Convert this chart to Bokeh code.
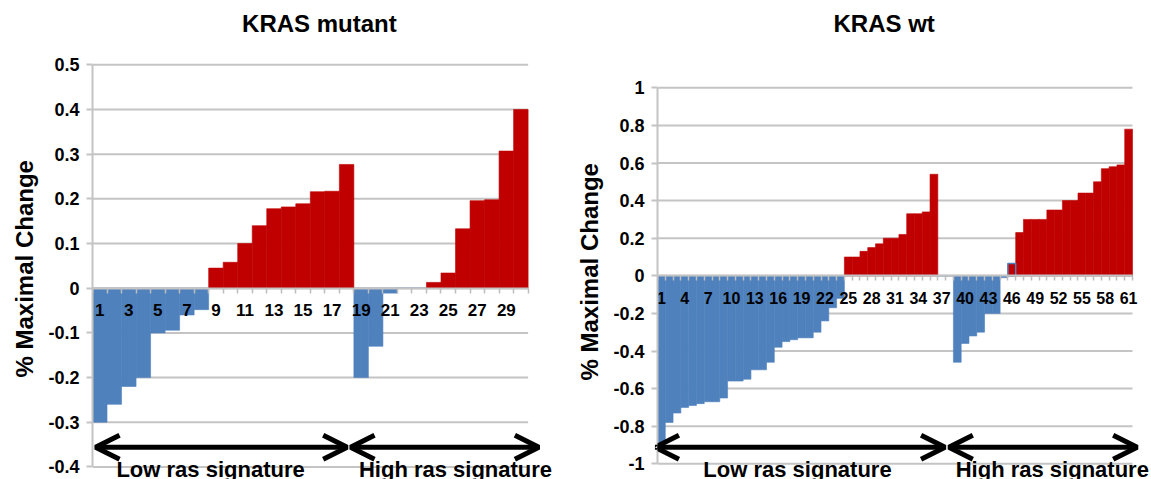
from bokeh.plotting import figure
from bokeh.layouts import row
from bokeh.models import (FixedTicker, CustomJSTickFormatter, Arrow, OpenHead,
                          Title, ColumnDataSource)
from bokeh.core.properties import value
from bokeh.embed import file_html
from bokeh.resources import INLINE

FONT = "Liberation Sans"
BLUE = "#4F81BD"
RED = "#C00000"
GRID = "#C4C4C4"

# ---------------- data ----------------
mut_title = "KRAS mutant"
mut_values = [-0.30, -0.26, -0.22, -0.20, -0.10, -0.094, -0.06, -0.048,
              0.045, 0.058, 0.10, 0.14, 0.178, 0.182, 0.189, 0.216, 0.217, 0.277,
              -0.20, -0.13, -0.011, 0.0, 0.0, 0.013, 0.034, 0.133, 0.196, 0.198,
              0.307, 0.40]
mut_xticks = [1, 3, 5, 7, 9, 11, 13, 15, 17, 19, 21, 23, 25, 27, 29]
mut_yticks = [-0.4, -0.3, -0.2, -0.1, 0.0, 0.1, 0.2, 0.3, 0.4, 0.5]

wt_title = "KRAS wt"
wt_values = [-0.89, -0.78, -0.73, -0.70, -0.69, -0.68, -0.67, -0.67, -0.65,
             -0.56, -0.56, -0.55, -0.50, -0.50, -0.46, -0.38, -0.35, -0.34,
             -0.33, -0.33, -0.30, -0.24, -0.17, -0.12,
             0.10, 0.10, 0.13, 0.15, 0.17, 0.20, 0.20, 0.22, 0.33, 0.33, 0.34,
             0.54, 0.0, 0.0,
             -0.46, -0.36, -0.32, -0.30, -0.20, -0.20, -0.01,
             0.065, 0.23, 0.30, 0.30, 0.30, 0.35, 0.35, 0.40, 0.40, 0.44, 0.44,
             0.50, 0.57, 0.58, 0.59, 0.78]
wt_xticks = [1, 4, 7, 10, 13, 16, 19, 22, 25, 28, 31, 34, 37, 40, 43, 46, 49,
             52, 55, 58, 61]
wt_yticks = [-1.0, -0.8, -0.6, -0.4, -0.2, 0.0, 0.2, 0.4, 0.6, 0.8, 1.0]
wt_outlined = [46]

y_label = "% Maximal Change"
group_names = ["Low ras signature", "High ras signature"]

# group arrows / label positions (in category units) per chart
mut_arrows = [(0.71, 18.04), (18.27, 31.24)]
mut_arrow_y = -0.356
mut_group_x = [8.63, 25.5]
mut_group_y = -0.405
mut_title_pos = (10.8, 0.592)

wt_arrows = [(0.17, 37.43), (37.91, 62.1)]
wt_arrow_y = -0.912
wt_group_x = [18.48, 51.2]
wt_group_y = -1.032
wt_title_pos = (23.1, 1.342)


def make_chart(values, xticks, yticks, y_range, x_end, width, border_left,
               border_right, title, title_pos, ylabel_offset, ylabel_standoff,
               arrows, arrow_y, group_x, group_y, xlabel_size, outlined=()):
    n = len(values)
    p = figure(width=width, height=479, x_range=(0.5, x_end), y_range=y_range,
               output_backend="svg", toolbar_location=None,
               min_border_left=border_left, min_border_right=border_right,
               min_border_top=0, min_border_bottom=0)
    p.outline_line_color = None
    p.grid.visible = False
    p.background_fill_color = "white"
    p.border_fill_color = "white"

    # horizontal gridlines limited to the category area
    p.segment(x0=[0.5] * len(yticks), x1=[n + 0.5] * len(yticks),
              y0=yticks, y1=yticks, line_color=GRID, line_width=2)

    xs = list(range(1, n + 1))
    colors = [RED if v > 0 else BLUE for v in values]
    src = ColumnDataSource(dict(x=xs, top=values, color=colors))
    p.vbar(x="x", top="top", bottom=0, width=1.0, source=src,
           fill_color="color", line_color="color", line_width=0.6)
    if outlined:
        p.vbar(x=list(outlined), top=[values[i - 1] for i in outlined], bottom=0,
               width=1.0, fill_color=None, line_color=BLUE, line_width=1.5)

    # x axis crossing at zero
    xa = p.xaxis[0]
    xa.fixed_location = 0
    xa.bounds = (0.5, n + 0.5)
    xa.ticker = FixedTicker(ticks=xticks,
                            minor_ticks=[i + 0.5 for i in range(0, n + 1)])
    xa.axis_line_color = GRID
    xa.axis_line_width = 2
    xa.major_tick_line_color = None
    xa.major_tick_out = 0
    xa.major_tick_in = 0
    xa.minor_tick_line_color = "#BDBDBD"
    xa.minor_tick_line_width = 1.5
    xa.minor_tick_out = 5
    xa.minor_tick_in = 0
    xa.major_label_standoff = 11
    xa.major_label_text_font = FONT
    xa.major_label_text_font_style = "bold"
    xa.major_label_text_font_size = xlabel_size
    xa.major_label_text_color = "black"

    ya = p.yaxis[0]
    ya.bounds = (yticks[0], yticks[-1])
    ya.ticker = FixedTicker(ticks=yticks, minor_ticks=[])
    ya.formatter = CustomJSTickFormatter(
        code="return Number(tick.toFixed(2)).toString();")
    ya.axis_line_color = GRID
    ya.axis_line_width = 2
    ya.major_tick_line_color = GRID
    ya.major_tick_line_width = 2
    ya.major_tick_out = 6
    ya.major_tick_in = 0
    ya.minor_tick_line_color = None
    ya.major_label_standoff = 7
    ya.major_label_text_font = FONT
    ya.major_label_text_font_style = "bold"
    ya.major_label_text_font_size = "18px"
    ya.major_label_text_color = "black"

    p.add_layout(Title(text=y_label, align="left", offset=ylabel_offset,
                       vertical_align="middle", standoff=ylabel_standoff,
                       text_font=FONT, text_font_style="bold",
                       text_font_size="24px", text_color="black"), "left")

    # chart title
    p.text(x=[title_pos[0]], y=[title_pos[1]], text=[title],
           text_align="left", text_baseline="alphabetic",
           text_font=value(FONT), text_font_style="bold",
           text_font_size="24px", text_color="black")

    # group arrows
    for (a, b) in arrows:
        p.add_layout(Arrow(start=OpenHead(size=24, line_width=5, line_color="black"),
                           end=OpenHead(size=24, line_width=5, line_color="black"),
                           x_start=a, y_start=arrow_y, x_end=b, y_end=arrow_y,
                           line_width=5, line_color="black"))
    p.text(x=group_x, y=[group_y] * len(group_x), text=group_names,
           text_align="center", text_baseline="alphabetic",
           text_font=value(FONT), text_font_style="bold",
           text_font_size="22px", text_color="black")
    return p


left = make_chart(mut_values, mut_xticks, mut_yticks, (-0.4282, 0.644), 32.73,
                  567, 92, 7, mut_title, mut_title_pos, 102, 13,
                  mut_arrows, mut_arrow_y, mut_group_x, mut_group_y, "17px")
right = make_chart(wt_values, wt_xticks, wt_yticks, (-1.0835, 1.4644), 63.94,
                   584, 90, 0, wt_title, wt_title_pos, 99, 13,
                   wt_arrows, wt_arrow_y, wt_group_x, wt_group_y, "16px",
                   outlined=wt_outlined)

layout = row(left, right)
open("out.html", "w").write(file_html(layout, INLINE))
